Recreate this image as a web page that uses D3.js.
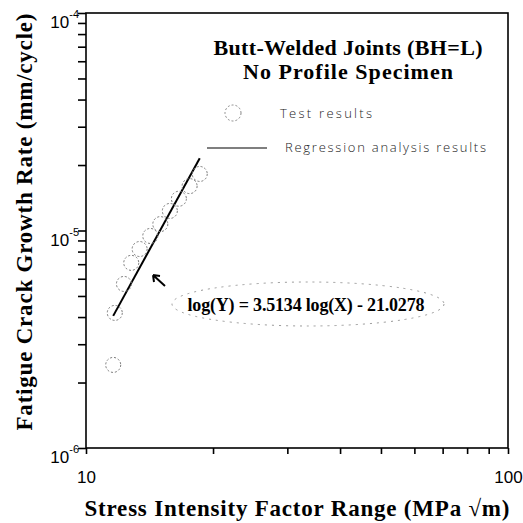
<!DOCTYPE html>
<html>
<head>
<meta charset="utf-8">
<script src="https://cdn.jsdelivr.net/npm/d3@7"></script>
<style>
  body { margin: 0; background: #fff; }
  svg { display: block; }
</style>
</head>
<body>
<script>
  var w = 523;
  var h = 523;

  // test results
  var stressRange = [11.6, 11.7, 12.3, 12.8, 13.4, 14.2, 15.0, 15.8, 16.6, 17.6, 18.6];
  var growthRate = [2.41e-6, 4.18e-6, 5.68e-6, 7.10e-6, 8.22e-6, 9.44e-6, 1.07e-5, 1.23e-5, 1.40e-5, 1.60e-5, 1.82e-5];

  // regression line ends
  var regX = [11.6, 18.6];
  var regY = [4.05e-6, 2.15e-5];

  var xTicks = [10, 20, 30, 40, 50, 60, 70, 80, 90, 100];
  var xLabels = ['10', '100'];
  var yTicks = [];
  [1e-6, 1e-5].forEach(function(d){
    for (var k = 1; k < 10; k++) yTicks.push(d * k);
  });
  yTicks.push(1e-4);
  var yLabels = ['-6', '-5', '-4'];

  var svg = d3.select('body').append('svg')
    .attr('width', w)
    .attr('height', h);

  var x = d3.scaleLog().domain([10, 100]).range([86, 508]);
  var y = d3.scaleLog().domain([1e-6, 1e-4]).range([448, 13]);

  // frame
  svg.append('rect')
    .attr('x', x(10)).attr('y', y(1e-4))
    .attr('width', x(100) - x(10))
    .attr('height', y(1e-6) - y(1e-4))
    .attr('fill', 'none')
    .attr('stroke', '#000')
    .attr('stroke-width', 1.6);

  var xAxis = svg.append('g')
    .attr('transform', 'translate(0,' + y(1e-6) + ')')
    .call(d3.axisBottom(x).tickValues(xTicks).tickSize(6).tickSizeOuter(0)
      .tickFormat(function(d){ return xLabels.indexOf(String(d)) >= 0 ? String(d) : ''; }));
  xAxis.select('.domain').remove();
  xAxis.selectAll('line').attr('stroke-width', 1.6);
  xAxis.selectAll('text')
    .attr('y', 23)
    .style('font-family', '"Liberation Sans", Arial, sans-serif')
    .style('font-size', '17px')
    .attr('fill', '#000');

  var yAxis = svg.append('g')
    .attr('transform', 'translate(' + x(10) + ',0)')
    .call(d3.axisLeft(y).tickValues(yTicks).tickSize(8).tickSizeOuter(0).tickFormat(''));
  yAxis.select('.domain').remove();
  yAxis.selectAll('line').attr('stroke-width', 1.6);

  // decade labels 10^n
  svg.selectAll('.ylab')
    .data([1e-6, 1e-5, 1e-4])
    .enter().append('text')
    .attr('class', 'ylab')
    .attr('x', 79)
    .attr('y', function(d){ return y(d) + 15; })
    .attr('text-anchor', 'end')
    .style('font-family', '"Liberation Sans", Arial, sans-serif')
    .style('font-size', '17px')
    .each(function(d, i){
      var t = d3.select(this);
      t.append('tspan').text('10');
      t.append('tspan').attr('dy', -10).style('font-size', '11px').text(yLabels[i]);
    });

  // regression line
  var line = d3.line()
    .x(function(d){ return x(d[0]); })
    .y(function(d){ return y(d[1]); });
  svg.append('path')
    .datum(d3.zip(regX, regY))
    .attr('d', line)
    .attr('fill', 'none')
    .attr('stroke', '#000')
    .attr('stroke-width', 2);

  // test points
  svg.selectAll('.pt')
    .data(d3.zip(stressRange, growthRate))
    .enter().append('circle')
    .attr('class', 'pt')
    .attr('cx', function(d){ return x(d[0]); })
    .attr('cy', function(d){ return y(d[1]); })
    .attr('r', 7.5)
    .attr('fill', 'none')
    .attr('stroke', '#777')
    .attr('stroke-width', 1)
    .attr('stroke-dasharray', '2,2');

  var serif = '"Liberation Serif", "Times New Roman", serif';
  function serifText(tx, ty, size, len, str) {
    return svg.append('text').attr('x', tx).attr('y', ty)
      .attr('text-anchor', 'middle')
      .attr('textLength', len).attr('lengthAdjust', 'spacing')
      .style('font-family', serif).style('font-weight', 'bold').style('font-size', size + 'px')
      .text(str);
  }

  // title
  serifText(348, 55, 22, 269, 'Butt-Welded Joints (BH=L)');
  serifText(348, 79, 22, 210, 'No Profile Specimen');

  // legend
  svg.append('circle')
    .attr('cx', 233).attr('cy', 113).attr('r', 8)
    .attr('fill', 'none').attr('stroke', '#888').attr('stroke-width', 1)
    .attr('stroke-dasharray', '2,2');
  svg.append('line')
    .attr('x1', 207).attr('x2', 267).attr('y1', 148).attr('y2', 148)
    .attr('stroke', '#000').attr('stroke-width', 1.2);
  svg.append('text').attr('x', 280).attr('y', 118)
    .attr('textLength', 92).attr('lengthAdjust', 'spacing')
    .style('font-family', '"Open Sans", sans-serif').style('font-size', '13px')
    .style('font-weight', 300).attr('fill', '#222')
    .text('Test results');
  svg.append('text').attr('x', 285).attr('y', 152)
    .attr('textLength', 201).attr('lengthAdjust', 'spacing')
    .style('font-family', '"Open Sans", sans-serif').style('font-size', '13px')
    .style('font-weight', 300).attr('fill', '#222')
    .text('Regression analysis results');

  // equation annotation
  svg.append('ellipse')
    .attr('cx', 308).attr('cy', 304).attr('rx', 136).attr('ry', 22)
    .attr('fill', 'none').attr('stroke', '#999').attr('stroke-width', 1)
    .attr('stroke-dasharray', '2,5');
  serifText(306, 311, 18, 237, 'log(Y) = 3.5134 log(X) - 21.0278');
  svg.append('path')
    .attr('d', 'M165,286 L153,275 M153,275 L160,276 M153,275 L154,282')
    .attr('fill', 'none').attr('stroke', '#000').attr('stroke-width', 2);

  // axis titles
  serifText(297, 516, 23, 425, 'Stress Intensity Factor Range (MPa \u221Am)');
  svg.append('text')
    .attr('transform', 'translate(32,222) rotate(-90)')
    .attr('text-anchor', 'middle')
    .attr('textLength', 417).attr('lengthAdjust', 'spacing')
    .style('font-family', serif).style('font-weight', 'bold').style('font-size', '23px')
    .text('Fatigue Crack Growth Rate (mm/cycle)');
</script>
</body>
</html>
